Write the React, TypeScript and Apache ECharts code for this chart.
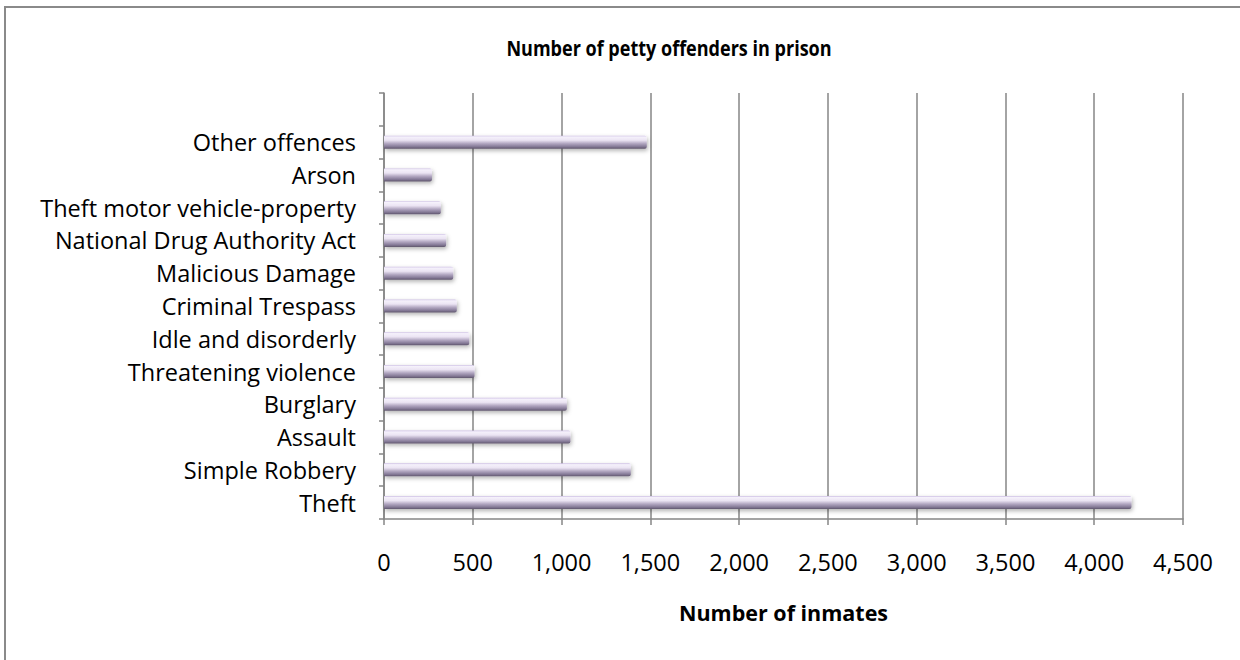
import React, { useEffect, useRef } from "react";
import * as echarts from "echarts";

const categories = [
  "Theft",
  "Simple Robbery",
  "Assault",
  "Burglary",
  "Threatening violence",
  "Idle and disorderly",
  "Criminal Trespass",
  "Malicious Damage",
  "National Drug Authority Act",
  "Theft motor vehicle-property",
  "Arson",
  "Other offences",
  "",
];
const inmates = [4210, 1390, 1050, 1030, 510, 480, 410, 390, 350, 320, 270, 1480, null];
const xTicks = { min: 0, max: 4500, interval: 500 };
const titleText = "Number of petty offenders in prison";
const xAxisTitle = "Number of inmates";

const FONT = "Open Sans";

export default function App() {
  const ref = useRef<HTMLDivElement>(null);
  useEffect(() => {
    if (!ref.current) return;
    const chart = echarts.init(ref.current, null, { renderer: "svg" });
    chart.setOption({
      animation: false,
      backgroundColor: "#ffffff",
      graphic: [
        {
          type: "rect",
          shape: { x: 5, y: 7, width: 1300, height: 700 },
          style: { fill: "none", stroke: "#8a8a8a", lineWidth: 2 },
          silent: true,
        },
        {
          type: "text",
          x: 669,
          y: 48,
          scaleX: 0.88,
          style: {
            text: titleText,
            textAlign: "center",
            textVerticalAlign: "middle",
            fontFamily: FONT,
            fontSize: 20.5,
            fontWeight: "bold",
            fill: "#000",
          },
          silent: true,
        },
      ],
      grid: { left: 384, right: 57, top: 93, bottom: 141, containLabel: false },
      xAxis: {
        type: "value",
        min: xTicks.min,
        max: xTicks.max,
        interval: xTicks.interval,
        name: xAxisTitle,
        nameLocation: "middle",
        nameGap: 82,
        nameTextStyle: { fontFamily: FONT, fontSize: 21.5, fontWeight: "bold", color: "#000" },
        axisLine: { show: true, lineStyle: { color: "#868686", width: 1.5 } },
        axisTick: { show: true, length: 6, lineStyle: { color: "#868686", width: 1.5 } },
        splitLine: { show: true, lineStyle: { color: "#868686", width: 1.5 } },
        axisLabel: {
          margin: 31,
          fontFamily: FONT,
          fontSize: 23.5,
          color: "#000",
          formatter: (v: number) => v.toLocaleString("en-US"),
        },
      },
      yAxis: {
        type: "category",
        data: categories,
        axisLine: { show: true, lineStyle: { color: "#868686", width: 1.5 } },
        axisTick: { show: true, length: 5, lineStyle: { color: "#868686", width: 1.5 } },
        axisLabel: { margin: 28, fontFamily: FONT, fontSize: 23.5, color: "#000", interval: 0 },
      },
      series: [
        {
          type: "bar",
          data: inmates,
          barWidth: 13,
          itemStyle: {
            color: new echarts.graphic.LinearGradient(0, 0, 0, 1, [
              { offset: 0, color: "#cdbfe4" },
              { offset: 0.1, color: "#f5f1fb" },
              { offset: 0.35, color: "#ebe4f3" },
              { offset: 0.6, color: "#b3a8c2" },
              { offset: 0.85, color: "#837895" },
              { offset: 1, color: "#5f566c" },
            ]),
            borderRadius: [0, 2, 2, 0],
            shadowColor: "rgba(0,0,0,0.3)",
            shadowBlur: 4,
            shadowOffsetX: 1,
            shadowOffsetY: 2,
          },
        },
      ],
    });
    return () => chart.dispose();
  }, []);
  return (
    <div
      ref={ref}
      style={{ position: "absolute", left: 0, top: 0, width: 1240, height: 660 }}
    />
  );
}
